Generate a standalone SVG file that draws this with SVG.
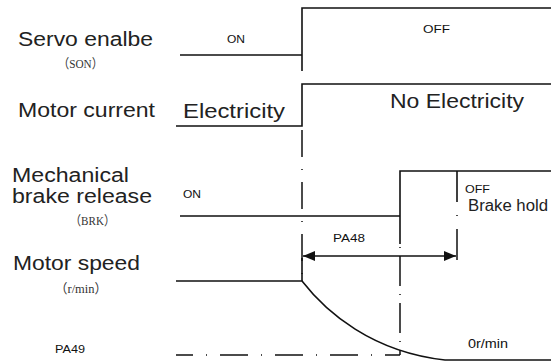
<svg xmlns="http://www.w3.org/2000/svg" width="551" height="363" viewBox="0 0 551 363">
<style>
.big{font-family:"Liberation Sans",Arial,sans-serif;font-size:19.5px;fill:#222}
.sm{font-family:"Liberation Sans",Arial,sans-serif;font-size:11.5px;fill:#111}
.ser{font-family:"Liberation Serif","Noto Sans CJK SC",serif;font-size:13px;fill:#333}
.ln{fill:none;stroke:#111;stroke-width:1.6}
.dd{fill:none;stroke:#111;stroke-width:1.5;stroke-dasharray:27 12 1 12}
</style>
<defs>
<marker id="ah" viewBox="0 0 12 10" refX="12" refY="5" markerWidth="12" markerHeight="10" markerUnits="userSpaceOnUse" orient="auto-start-reverse">
<path d="M0,0 L12,5 L0,10 Z" fill="#111"/>
</marker>
</defs>
<rect width="551" height="363" fill="#fff"/>
<g id="labels">
<text class="big" x="18" y="46" textLength="135" lengthAdjust="spacingAndGlyphs">Servo enalbe</text>
<text class="ser" x="58" y="68" textLength="45" lengthAdjust="spacingAndGlyphs">（SON）</text>
<text class="big" x="18" y="117" textLength="137" lengthAdjust="spacingAndGlyphs">Motor current</text>
<text class="big" x="12" y="182" textLength="117" lengthAdjust="spacingAndGlyphs">Mechanical</text>
<text class="big" x="12" y="203" textLength="140" lengthAdjust="spacingAndGlyphs">brake release</text>
<text class="ser" x="70" y="225" textLength="45" lengthAdjust="spacingAndGlyphs">（BRK）</text>
<text class="big" x="13" y="270" textLength="127" lengthAdjust="spacingAndGlyphs">Motor speed</text>
<text class="ser" x="55" y="293" textLength="52" lengthAdjust="spacingAndGlyphs">（r/min）</text>
</g>
<g id="servo">
<path class="ln" d="M180,55 H302 M302,71 V8 H551"/>
<text class="sm" x="227" y="43" textLength="18" lengthAdjust="spacingAndGlyphs">ON</text>
<text class="sm" x="423" y="33" textLength="27" lengthAdjust="spacingAndGlyphs">OFF</text>
</g>
<g id="current">
<path class="ln" d="M176,126 H302 V84 H551"/>
<text class="big" x="183" y="118" textLength="102" lengthAdjust="spacingAndGlyphs">Electricity</text>
<text class="big" x="390" y="108" textLength="134" lengthAdjust="spacingAndGlyphs">No Electricity</text>
</g>
<g id="brake">
<path class="ln" d="M180,216 H400 V171 H551 M400,171 V244 M457,171 V202"/>
<text class="sm" x="183" y="198" textLength="18" lengthAdjust="spacingAndGlyphs">ON</text>
<text class="sm" x="465" y="193" textLength="25" lengthAdjust="spacingAndGlyphs">OFF</text>
<text class="big" x="468" y="211" style="font-size:16px" textLength="80" lengthAdjust="spacingAndGlyphs">Brake hold</text>
</g>
<g id="speed">
<path class="ln" d="M176,281 H302 C326,312 372,352 445,360 H551"/>
<text class="sm" x="55" y="353" textLength="30" lengthAdjust="spacingAndGlyphs">PA49</text>
<text class="sm" x="468" y="348" style="font-size:13px" textLength="40" lengthAdjust="spacingAndGlyphs">0r/min</text>
</g>
<g id="connectors">
<path class="dd" d="M302,130 V280"/>
<path class="ln" d="M302,258 V281"/>
<path class="dd" d="M400,244 V355" style="stroke-dasharray:30 8 1 8;stroke-dashoffset:-12"/>
<path class="dd" d="M457,202 V260" style="stroke-dasharray:0 13 1 13 32"/>
<path class="dd" d="M176,355 H400" style="stroke-dasharray:17 13 1 13 28 13 1 13 28 13 1 13 28 13 1 13 28 13 1 13"/>
<line class="ln" x1="303" y1="256" x2="456" y2="256" marker-start="url(#ah)" marker-end="url(#ah)"/>
<text class="sm" x="333" y="242" textLength="32" lengthAdjust="spacingAndGlyphs">PA48</text>
</g>
</svg>
